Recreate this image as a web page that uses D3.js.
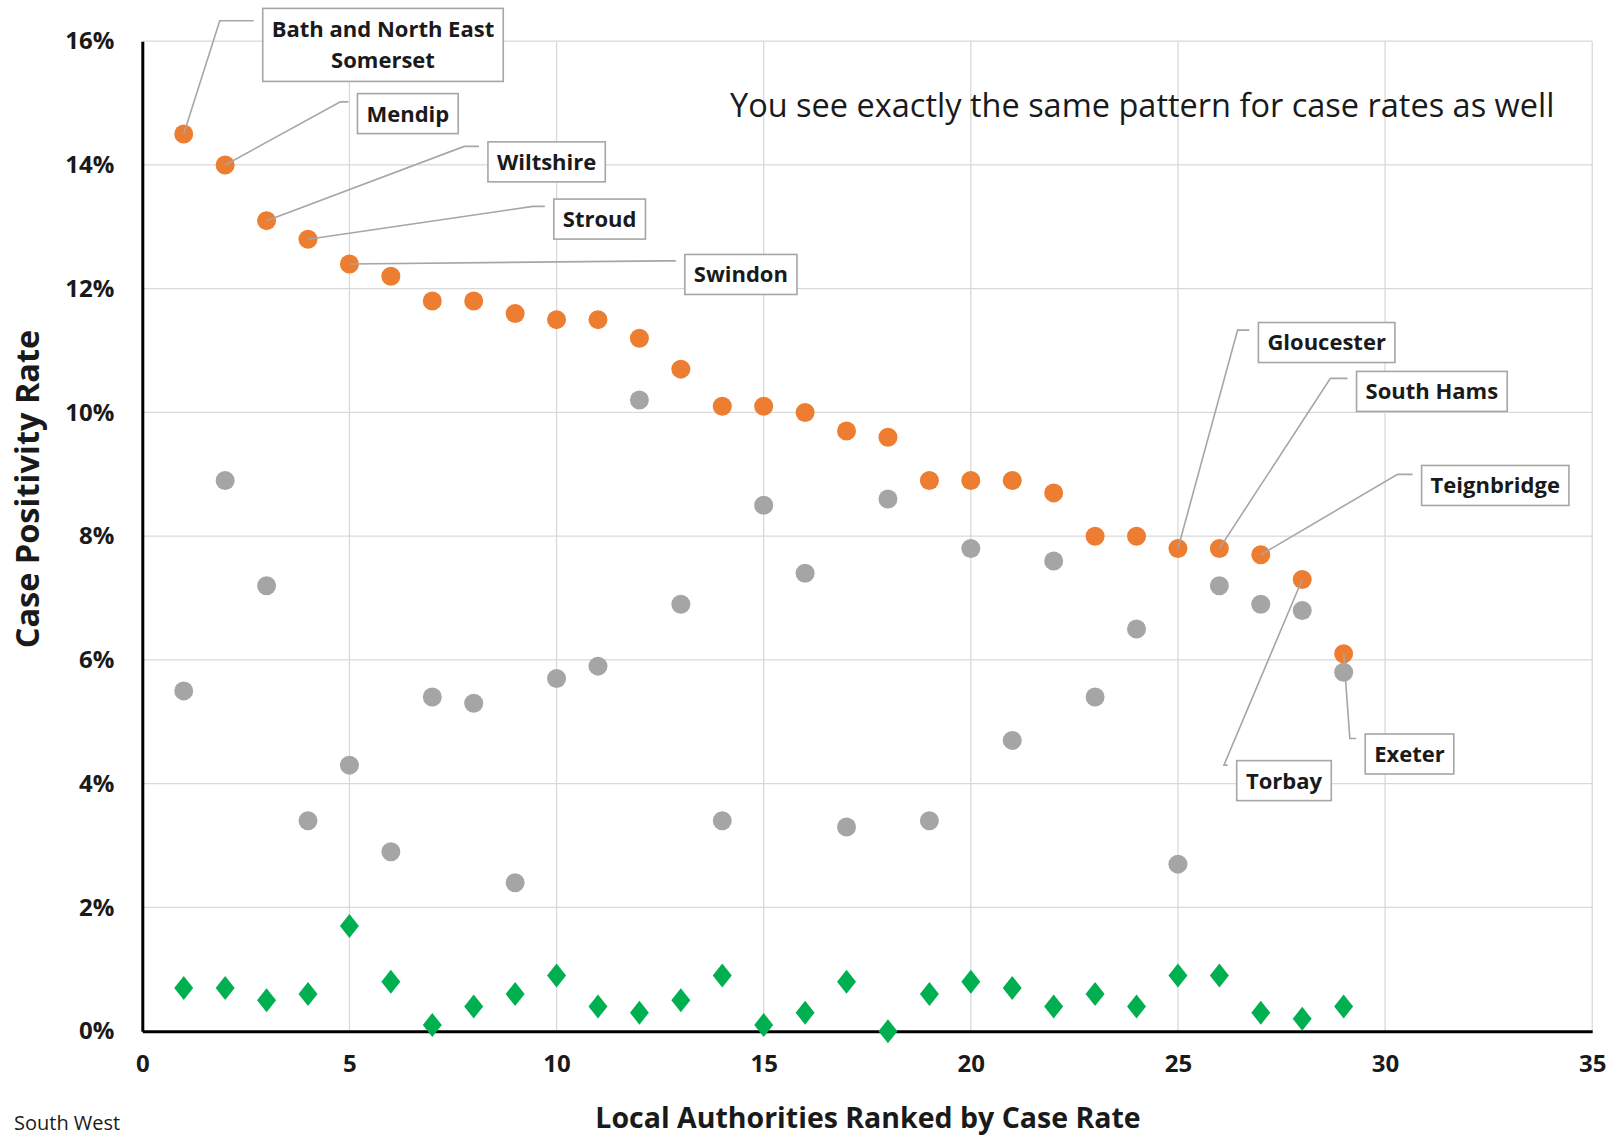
<!DOCTYPE html>
<html>
<head>
<meta charset="utf-8">
<script src="https://cdn.jsdelivr.net/npm/d3@7"></script>
<style>
  html, body { margin: 0; padding: 0; background: #fff; }
  svg { display: block; }
  text { font-family: "Open Sans", Lato, sans-serif; fill: #1a1a1a; }
</style>
</head>
<body>
<svg id="chart" width="1617" height="1138"></svg>
<script>
// ---- data ----
const ranks = d3.range(1, 30);
const positivityRate = [14.5, 14.0, 13.1, 12.8, 12.4, 12.2, 11.8, 11.8, 11.6, 11.5, 11.5, 11.2, 10.7, 10.1, 10.1, 10.0, 9.7, 9.6, 8.9, 8.9, 8.9, 8.7, 8.0, 8.0, 7.8, 7.8, 7.7, 7.3, 6.1];
const greySeries = [5.5, 8.9, 7.2, 3.4, 4.3, 2.9, 5.4, 5.3, 2.4, 5.7, 5.9, 10.2, 6.9, 3.4, 8.5, 7.4, 3.3, 8.6, 3.4, 7.8, 4.7, 7.6, 5.4, 6.5, 2.7, 7.2, 6.9, 6.8, 5.8];
const greenSeries = [0.7, 0.7, 0.5, 0.6, 1.7, 0.8, 0.1, 0.4, 0.6, 0.9, 0.4, 0.3, 0.5, 0.9, 0.1, 0.3, 0.8, 0.0, 0.6, 0.8, 0.7, 0.4, 0.6, 0.4, 0.9, 0.9, 0.3, 0.2, 0.4];
const xTicks = [0, 5, 10, 15, 20, 25, 30, 35];
const yTicks = [0, 2, 4, 6, 8, 10, 12, 14, 16];
// labelled authorities: rank, name lines, box centre & elbow (in data units)
const labelRanks = [1, 2, 3, 4, 5, 25, 26, 27, 28, 29];
const labelNames = [["Bath and North East", "Somerset"], ["Mendip"], ["Wiltshire"], ["Stroud"], ["Swindon"], ["Gloucester"], ["South Hams"], ["Teignbridge"], ["Torbay"], ["Exeter"]];
const labelBoxX = [5.81, 6.41, 9.76, 11.04, 14.45, 28.59, 31.13, 32.66, 27.56, 30.59];
const labelBoxY = [15.94, 14.83, 14.05, 13.125, 12.23, 11.13, 10.34, 8.82, 4.05, 4.48];
const labelElbowX = [1.87, 4.78, 7.77, 9.43, 12.6, 26.44, 28.68, 30.30, 26.11, 29.15];
const labelElbowY = [16.33, 15.02, 14.30, 13.33, 12.45, 11.33, 10.55, 9.0, 4.30, 4.73];
const annotation = "You see exactly the same pattern for case rates as well";

// ---- layout ----
const svg = d3.select("#chart");
const x = d3.scaleLinear().domain([0, 35]).range([142.3, 1592.2]);
const y = d3.scaleLinear().domain([0, 16]).range([1031.2, 41.2]);

// gridlines
svg.append("g").selectAll("line.h").data(yTicks.filter(d => d > 0)).join("line")
  .attr("x1", x(0)).attr("x2", x(35))
  .attr("y1", d => y(d)).attr("y2", d => y(d))
  .attr("stroke", "#d9d9d9").attr("stroke-width", 1.3);
svg.append("g").selectAll("line.v").data(xTicks.filter(d => d > 0)).join("line")
  .attr("x1", d => x(d)).attr("x2", d => x(d))
  .attr("y1", y(16)).attr("y2", y(0))
  .attr("stroke", "#d9d9d9").attr("stroke-width", 1.3);

// axes
const yAxis = d3.axisLeft(y).tickValues(yTicks).tickSize(0).tickPadding(28).tickFormat(d => d + "%");
const gy = svg.append("g").attr("transform", `translate(${x(0)},0)`).call(yAxis);
gy.select(".domain").attr("stroke", "#000").attr("stroke-width", 3);
gy.selectAll("text").style("font-family", "'Open Sans', sans-serif").style("font-size", "24px").style("font-weight", "700").attr("fill", "#1a1a1a");

const xAxis = d3.axisBottom(x).tickValues(xTicks).tickSize(0).tickPadding(24);
const gx = svg.append("g").attr("transform", `translate(0,${y(0)})`).call(xAxis);
gx.select(".domain").attr("stroke", "#000").attr("stroke-width", 3);
gx.selectAll("text").style("font-family", "'Open Sans', sans-serif").style("font-size", "24px").style("font-weight", "700").attr("fill", "#1a1a1a");

// points
const r = 9.5;
svg.append("g").selectAll("circle").data(ranks).join("circle")
  .attr("cx", d => x(d)).attr("cy", (d, i) => y(positivityRate[i])).attr("r", r)
  .attr("fill", "#ED7D31");
svg.append("g").selectAll("circle").data(ranks).join("circle")
  .attr("cx", d => x(d)).attr("cy", (d, i) => y(greySeries[i])).attr("r", r)
  .attr("fill", "#A5A5A5");
svg.append("g").selectAll("path").data(ranks).join("path")
  .attr("d", (d, i) => {
    const cx = x(d), cy = y(greenSeries[i]);
    return `M${cx},${cy - 12}L${cx + 9.5},${cy}L${cx},${cy + 12}L${cx - 9.5},${cy}Z`;
  })
  .attr("fill", "#00B050");

// labels
const fs = 22, lh = 31, padX = 9;
const labels = labelRanks.map((rk, i) => ({
  rank: rk, lines: labelNames[i], bx: labelBoxX[i], by: labelBoxY[i], ex: labelElbowX[i], ey: labelElbowY[i], v: positivityRate[rk - 1]
}));
const lg = svg.append("g");
labels.forEach(L => {
  const cx = x(L.bx), cy = y(L.by);
  const t = lg.append("text").attr("text-anchor", "middle").style("font-size", fs + "px").style("font-weight", "700");
  L.lines.forEach((s, j) => {
    t.append("tspan").attr("x", cx).attr("y", cy + (j - (L.lines.length - 1) / 2) * lh + fs * 0.36).text(s);
  });
  const bb = t.node().getBBox();
  const w = bb.width + 2 * padX, h = L.lines.length === 1 ? 40 : 73;
  const left = cx - w / 2;
  // leader
  const px = x(L.rank), py = y(L.v);
  const exx = x(L.ex), eyy = y(L.ey);
  lg.insert("path", "text")
    .attr("d", `M${px},${py}L${exx},${eyy}L${Math.max(exx, left - 9)},${eyy}`)
    .attr("fill", "none").attr("stroke", "#A6A6A6").attr("stroke-width", 1.6);
  lg.insert("rect", "text")
    .attr("x", left).attr("y", cy - h / 2).attr("width", w).attr("height", h)
    .attr("fill", "#fff").attr("stroke", "#A6A6A6").attr("stroke-width", 1.6);
});

// annotation
svg.append("text").attr("x", 730).attr("y", 117).style("font-size", "32.5px").text(annotation);

// axis titles
svg.append("text").attr("text-anchor", "middle")
  .attr("transform", `translate(39,489) rotate(-90)`)
  .style("font-size", "32.5px").style("font-weight", "700").text("Case Positivity Rate");
svg.append("text").attr("text-anchor", "middle").attr("x", 868).attr("y", 1128)
  .style("font-size", "28.5px").style("font-weight", "700").text("Local Authorities Ranked by Case Rate");
svg.append("text").attr("x", 14).attr("y", 1130).style("font-size", "20px").text("South West");
</script>
</body>
</html>
